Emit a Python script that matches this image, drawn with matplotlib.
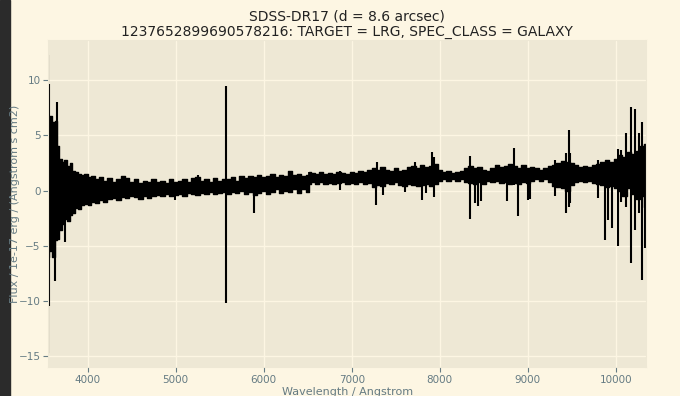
import numpy as np
import matplotlib
matplotlib.use('Agg')
import matplotlib.pyplot as plt
from matplotlib.patches import Rectangle

# envelope of the dense part of the spectrum (Angstrom, flux upper / lower)
env_wave = [3553, 3580, 3610, 3640, 3665, 3690, 3720, 3750, 3780, 3810, 3840, 3870, 3900, 3940, 3980,
            4020, 4060, 4100, 4150, 4200, 4250, 4300, 4350, 4400, 4450, 4500, 4550, 4600, 4650, 4700,
            4750, 4800, 4850, 4900, 4950, 5000, 5050, 5100, 5150, 5200, 5250, 5300, 5350, 5400, 5450,
            5500, 5550, 5600, 5650, 5700, 5750, 5800, 5850, 5900, 5950, 6000, 6050, 6100, 6150, 6200,
            6250, 6300, 6350, 6400, 6450, 6500, 6520, 6560, 6600, 6650, 6700, 6750, 6800, 6850, 6900,
            6950, 7000, 7050, 7100, 7150, 7200, 7250, 7300, 7350, 7400, 7450, 7500, 7550, 7600, 7650,
            7700, 7750, 7800, 7850, 7900, 7950, 8000, 8050, 8100, 8150, 8200, 8250, 8300, 8350, 8400,
            8450, 8500, 8550, 8600, 8650, 8700, 8750, 8800, 8850, 8900, 8950, 9000, 9050, 9100, 9150,
            9200, 9250, 9300, 9350, 9400, 9450, 9500, 9550, 9600, 9650, 9700, 9750, 9800, 9850, 9900,
            9950, 10000, 10050, 10100, 10150, 10200, 10250, 10300, 10343]
env_hi = [6.5, 6.8, 6.2, 6.3, 4.0, 2.9, 2.6, 2.8, 2.2, 2.5, 1.8, 1.7, 1.5, 1.4, 1.5,
          1.2, 1.3, 1.0, 1.2, 0.9, 1.1, 0.8, 1.0, 1.3, 1.1, 0.8, 1.0, 0.7, 0.9, 0.8,
          1.0, 0.8, 0.9, 0.7, 1.0, 0.8, 0.9, 1.0, 0.8, 1.1, 1.2, 0.9, 1.0, 0.8, 1.1,
          0.9, 1.0, 1.0, 1.2, 0.9, 1.3, 1.1, 1.3, 1.2, 1.4, 1.2, 1.3, 1.5, 1.2, 1.4,
          1.3, 1.8, 1.4, 1.5, 1.3, 1.4, 1.7, 1.6, 1.5, 1.7, 1.5, 1.6, 1.5, 1.7, 1.6,
          1.5, 1.7, 1.6, 1.8, 1.7, 1.9, 2.0, 1.9, 2.1, 1.9, 1.8, 2.0, 1.8, 1.9, 2.1,
          2.2, 2.0, 2.3, 2.1, 2.2, 2.4, 1.9, 1.7, 1.8, 1.6, 1.7, 1.8, 2.0, 2.2, 2.0,
          2.1, 1.9, 1.8, 2.0, 2.3, 2.1, 2.2, 2.4, 2.2, 2.0, 2.3, 2.0, 2.1, 2.0, 1.9,
          2.0, 2.2, 2.3, 2.5, 2.7, 2.6, 2.5, 2.3, 2.1, 2.2, 2.1, 2.3, 2.4, 2.6, 2.8,
          2.6, 2.9, 3.2, 3.0, 3.5, 3.3, 3.6, 4.0, 4.2]
env_lo = [-6.0, -5.5, -6.0, -4.5, -4.4, -3.6, -3.0, -2.6, -2.8, -2.2, -2.0, -1.6, -1.7, -1.3, -1.2,
          -1.3, -1.0, -1.1, -0.9, -1.0, -0.8, -0.7, -0.9, -0.6, -0.7, -0.5, -0.6, -0.8, -0.5, -0.7,
          -0.5, -0.4, -0.5, -0.3, -0.5, -0.4, -0.3, -0.5, -0.2, -0.3, -0.4, -0.2, -0.3, -0.1, -0.3,
          -0.2, -0.1, -0.3, -0.1, -0.2, 0.0, -0.3, -0.1, -0.4, -0.2, 0.0, -0.3, -0.1, 0.1, -0.2,
          0.0, -0.1, 0.1, -0.2, 0.1, -0.1, 0.6, 0.8, 0.6, 0.8, 0.6, 0.7, 0.6, 0.7, 0.8,
          0.6, 0.7, 0.6, 0.8, 0.6, 0.7, 0.3, 0.5, 0.4, 0.7, 0.6, 0.8, 0.5, 0.4, 0.6,
          0.5, 0.4, 0.5, 0.6, 0.4, 0.6, 0.9, 1.0, 0.9, 1.0, 0.9, 1.0, 0.8, 0.7, 0.6,
          0.8, 0.6, 0.9, 0.8, 0.9, 0.7, 0.8, 0.6, 0.7, 0.6, 0.8, 0.7, 0.9, 1.0, 0.9,
          1.0, 0.8, 0.4, 0.3, 0.2, 0.0, 0.5, 0.8, 0.9, 0.8, 0.9, 0.7, 0.6, 0.5, 0.3,
          0.4, 0.2, 0.0, -0.5, 0.2, -0.3, -0.8, -0.5, -1.5]

# single pixels / sky lines sticking out of the band
spike_wave = [3554, 3560, 3630, 3650, 3745, 4990, 5250, 5577, 5889, 6870, 7275, 7290, 7360, 7600,
              7720, 7798, 7840, 7912, 7930, 8348, 8405, 8430, 8470, 8765, 8838, 8890, 9005, 9020,
              9310, 9430, 9465, 9480, 9795, 9875, 9915, 9960, 10020, 10060, 10120, 10178, 10220,
              10260, 10295, 10335]
spike_lo = [-14.7, -10.5, -8.2, 0.0, -4.7, -0.85, 0.0, -10.2, -2.0, 0.06, -1.3, 0.5, -0.4, -0.1,
            0.5, -0.85, -0.2, 0.5, -0.6, -2.6, -1.15, -1.45, -0.95, -0.95, 0.5, -2.35, -0.9, -0.8,
            -0.5, -2.0, -1.5, -1.1, -0.65, -4.45, -2.65, -3.4, -5.05, -1.0, -1.5, -6.55, -3.55,
            -2.0, -8.1, -5.2]
spike_hi = [12.3, 9.7, 0.0, 8.0, 0.0, 0.3, 1.4, 9.5, 0.3, 1.8, 1.5, 2.6, 1.5, 1.5,
            2.6, 1.5, 1.5, 3.5, 3.0, 3.1, 2.0, 2.0, 1.8, 1.8, 3.85, 1.8, 1.8, 1.8,
            2.8, 3.4, 5.5, 3.4, 2.8, 2.0, 2.4, 2.5, 3.8, 3.7, 5.2, 7.6, 7.35,
            5.2, 6.2, 4.2]

plt.style.use('Solarize_Light2')

fig = plt.figure(figsize=(6.8, 3.96), dpi=100)
ax = fig.add_axes([0.071, 0.072, 0.879, 0.827])

# solid band with blocky (pixel-like) edges, plus the lines sticking out
ax.fill_between(env_wave, env_lo, env_hi, step='mid', color='k', lw=1.0)
ax.vlines(env_wave, env_lo, env_hi, color='k', lw=1.3)
ax.vlines(spike_wave, spike_lo, spike_hi, color='k', lw=1.5)

ax.set_xlim(min(env_wave), max(env_wave))
ax.margins(y=0.05)
ax.tick_params(labelsize=7.5, pad=2)
ax.set_xlabel('Wavelength / Angstrom', fontsize=8, labelpad=1)
ax.set_ylabel('Flux / 1e-17 erg / (Angstrom s cm2)', fontsize=8)
ax.yaxis.set_label_coords(-0.047, 0.5)
ax.set_title('SDSS-DR17 (d = 8.6 arcsec)\n1237652899690578216: TARGET = LRG, SPEC_CLASS = GALAXY',
             fontsize=10, color='#222222', pad=3, linespacing=1.1)

# dark strip at the left edge of the screenshot
fig.patches.append(Rectangle((0, 0), 10 / 680, 1, transform=fig.transFigure,
                             color='#2b2b2b', zorder=-1))

fig.savefig('out.png', dpi=100)
